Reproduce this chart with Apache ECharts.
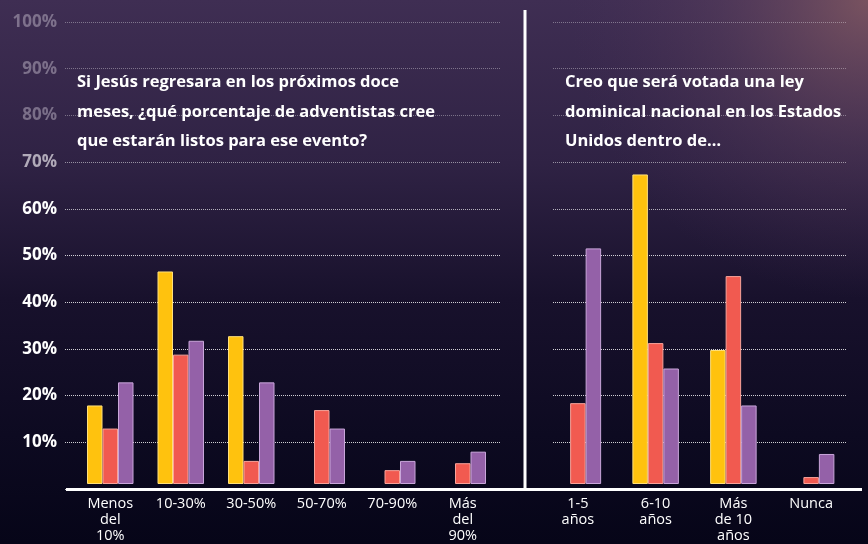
<!DOCTYPE html>
<html><head><meta charset="utf-8">
<script src="https://cdn.jsdelivr.net/npm/echarts@6/dist/echarts.min.js"></script>
<style>html,body{margin:0;padding:0;background:#100b22}#c{width:868px;height:544px}</style>
</head><body><div id="c"></div>
<script>
// ---- data ----
var leftCategories = ['Menos\ndel\n10%', '10-30%', '30-50%', '50-70%', '70-90%', 'Más\ndel\n90%'];
var leftYellow = [17, 46, 32, null, null, null];
var leftRed = [12, 28, 5, 16, 3, 4.5];
var leftPurple = [22, 31, 22, 12, 5, 7];

var rightCategories = ['1-5\naños', '6-10\naños', 'Más\nde 10\naños', 'Nunca'];
var rightYellow = [null, 67, 29, null];
var rightRed = [17.5, 30.5, 45, 1.5];
var rightPurple = [51, 25, 17, 6.5];

var yTicks = [0, 10, 20, 30, 40, 50, 60, 70, 80, 90, 100];
var leftTitle = 'Si Jesús regresara en los próximos doce\nmeses, ¿qué porcentaje de adventistas cree\nque estarán listos para ese evento?';
var rightTitle = 'Creo que será votada una ley\ndominical nacional en los Estados\nUnidos dentro de…';

// ---- style ----
var C_Y = '#FFC20E', C_R = '#F15A50', C_P = '#9461A8';
var B_Y = '#FFE07A', B_R = '#F9A39A', B_P = '#C9A6DA';
var FONT = 'Open Sans';

var chart = echarts.init(document.getElementById('c'), null, {renderer: 'canvas'});

var gridColors = yTicks.map(function (v) {
  var a = v >= 80 ? 0.35 : (v >= 70 ? 0.5 : (v >= 60 ? 0.65 : 0.8));
  return 'rgba(255,255,255,' + a + ')';
});
function labelColor(val) {
  var v = Number(val);
  if (v >= 80) return 'rgba(170,160,180,0.6)';
  if (v >= 70) return 'rgba(210,205,215,0.8)';
  return '#ffffff';
}

function barSeries(name, data, color, border, xi, yi) {
  return {
    type: 'bar', name: name, data: data, xAxisIndex: xi, yAxisIndex: yi,
    barWidth: 15.5, barGap: '0%',
    itemStyle: {color: color, borderColor: border, borderWidth: 1},
    silent: true, animation: false
  };
}

var yBase = {type: 'value', min: 0, max: 100, interval: 10};

var option = {
  animation: false,
  graphic: [
    {type: 'rect', z: -10, silent: true, shape: {x: 0, y: 0, width: 868, height: 544},
      style: {fill: new echarts.graphic.LinearGradient(0, 0, 0, 1, [
        {offset: 0, color: '#3f2e53'},
        {offset: 0.3, color: '#2f2244'},
        {offset: 0.55, color: '#18112c'},
        {offset: 0.8, color: '#0d0a21'},
        {offset: 1, color: '#060518'}
      ])}},
    {type: 'rect', z: -9, silent: true, shape: {x: 0, y: 0, width: 868, height: 544},
      style: {fill: new echarts.graphic.RadialGradient(1, 0, 0.55, [
        {offset: 0, color: 'rgba(140,95,100,0.75)'},
        {offset: 0.5, color: 'rgba(110,75,100,0.3)'},
        {offset: 1, color: 'rgba(80,50,90,0)'}
      ])}},
    {type: 'line', z: 10, silent: true, shape: {x1: 525, y1: 10, x2: 525, y2: 490},
      style: {stroke: '#ffffff', lineWidth: 3}},
    {type: 'line', z: 10, silent: true, shape: {x1: 66, y1: 489.5, x2: 862, y2: 489.5},
      style: {stroke: '#ffffff', lineWidth: 3}},
    {type: 'text', z: 10, left: 77, top: 68, silent: true,
      style: {text: leftTitle, fill: '#ffffff', font: 'bold 16.5px "' + FONT + '"', lineHeight: 29.5}},
    {type: 'text', z: 10, left: 565, top: 68, silent: true,
      style: {text: rightTitle, fill: '#ffffff', font: 'bold 16.5px "' + FONT + '"', lineHeight: 29.5}}
  ],
  grid: [
    {left: 65, width: 435, top: 22, height: 467},
    {left: 75, width: 423, top: 22, height: 467},
    {left: 553, width: 294, top: 22, height: 467},
    {left: 539, width: 311, top: 22, height: 467}
  ],
  xAxis: [
    {gridIndex: 0, type: 'value', min: 0, max: 1, show: false},
    {gridIndex: 1, type: 'category', data: leftCategories,
      axisLine: {show: false}, axisTick: {show: false},
      axisLabel: {color: '#ffffff', fontFamily: FONT, fontSize: 14.5, lineHeight: 16, margin: 12, interval: 0}},
    {gridIndex: 2, type: 'value', min: 0, max: 1, show: false},
    {gridIndex: 3, type: 'category', data: rightCategories,
      axisLine: {show: false}, axisTick: {show: false},
      axisLabel: {color: '#ffffff', fontFamily: FONT, fontSize: 14.5, lineHeight: 16, margin: 12, interval: 0}}
  ],
  yAxis: [
    Object.assign({gridIndex: 0,
      axisLine: {show: false}, axisTick: {show: false},
      axisLabel: {margin: 8, fontFamily: FONT, fontWeight: 'bold', fontSize: 17,
        color: labelColor,
        formatter: function (v) { return v === 0 ? '' : v + '%'; }},
      splitLine: {show: true, lineStyle: {type: 'dotted', width: 1, color: gridColors}}}, yBase),
    Object.assign({gridIndex: 1, show: false, splitLine: {show: false}}, yBase),
    Object.assign({gridIndex: 2,
      axisLine: {show: false}, axisTick: {show: false}, axisLabel: {show: false},
      splitLine: {show: true, lineStyle: {type: 'dotted', width: 1, color: gridColors}}}, yBase),
    Object.assign({gridIndex: 3, show: false, splitLine: {show: false}}, yBase)
  ],
  series: [
    barSeries('Amarillo', leftYellow, C_Y, B_Y, 1, 1),
    barSeries('Rojo', leftRed, C_R, B_R, 1, 1),
    barSeries('Morado', leftPurple, C_P, B_P, 1, 1),
    barSeries('Amarillo', rightYellow, C_Y, B_Y, 3, 3),
    barSeries('Rojo', rightRed, C_R, B_R, 3, 3),
    barSeries('Morado', rightPurple, C_P, B_P, 3, 3)
  ]
};
chart.setOption(option);
</script></body></html>
